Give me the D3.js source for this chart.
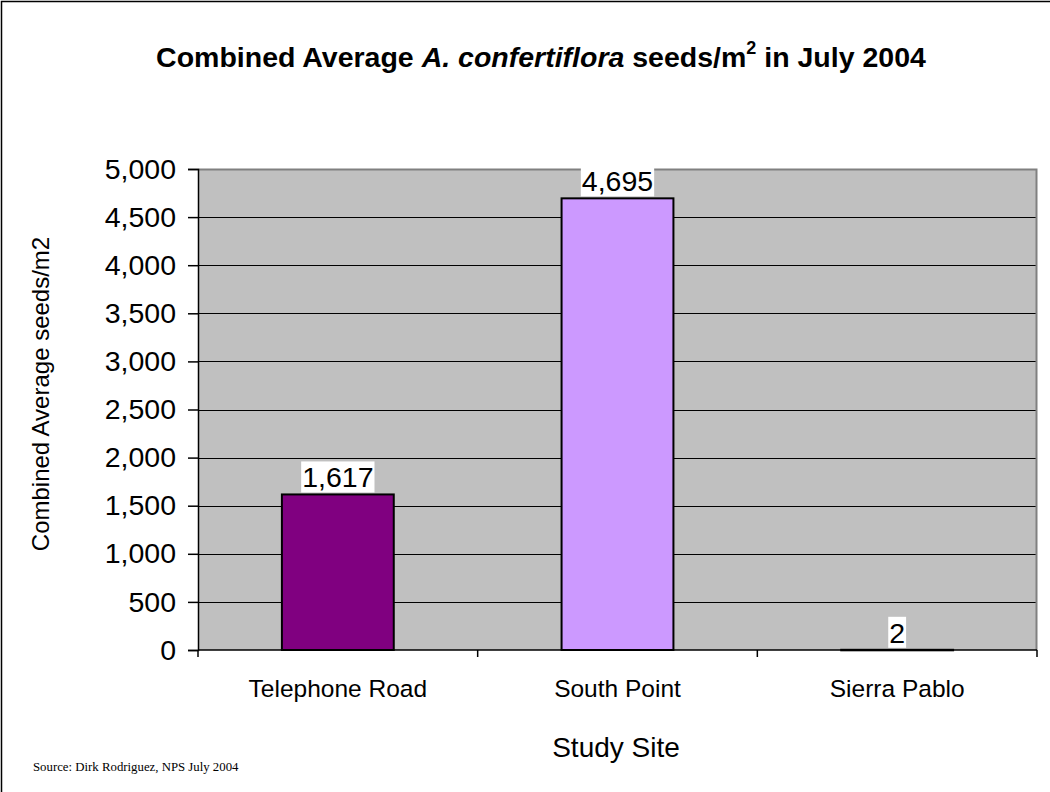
<!DOCTYPE html>
<html>
<head>
<meta charset="utf-8">
<script src="https://cdn.jsdelivr.net/npm/d3@7"></script>
<style>
  html, body { margin: 0; padding: 0; background: #fff; }
  svg { display: block; }
</style>
</head>
<body>
<svg id="chart" width="1050" height="792"></svg>
<script>
// Study sites and combined average seed counts per square metre
const sites = ["Telephone Road", "South Point", "Sierra Pablo"];
const seeds = [1617, 4695, 2];
const barColors = ["#800080", "#CC99FF", "#993366"];
const yTicks = [0, 500, 1000, 1500, 2000, 2500, 3000, 3500, 4000, 4500, 5000];

const svg = d3.select("#chart");
const W = 1050, H = 792;
const plot = { left: 198, right: 1037, top: 169, bottom: 650 };
const sans = "Arial, 'Liberation Sans', sans-serif";

// outer frame of the chart area
svg.append("rect")
  .attr("x", 1.5).attr("y", 1.5)
  .attr("width", W + 10).attr("height", H + 10)
  .attr("fill", "#fff").attr("stroke", "#000").attr("stroke-width", 1.5);

const x = d3.scaleBand()
  .domain(sites)
  .range([plot.left, plot.right])
  .paddingInner(0).paddingOuter(0);

const y = d3.scaleLinear()
  .domain([0, 5000])
  .range([plot.bottom, plot.top]);

const fmt = d3.format(",");

// plot background
svg.append("rect")
  .attr("x", plot.left).attr("y", plot.top)
  .attr("width", plot.right - plot.left).attr("height", plot.bottom - plot.top)
  .attr("fill", "#C0C0C0");

// horizontal gridlines
svg.append("g")
  .selectAll("line")
  .data(yTicks.filter(d => d > 0))
  .join("line")
  .attr("x1", plot.left).attr("x2", plot.right)
  .attr("y1", d => Math.round(y(d)) + 0.5).attr("y2", d => Math.round(y(d)) + 0.5)
  .attr("stroke", "#000").attr("stroke-width", 1);

// plot border (top and right)
svg.append("path")
  .attr("d", `M${plot.left},${plot.top + 0.5}H${plot.right - 0.5}V${plot.bottom}`)
  .attr("fill", "none").attr("stroke", "#808080").attr("stroke-width", 2);

// bars
const barW = x.bandwidth() / 2.5;
svg.append("g")
  .selectAll("rect")
  .data(sites)
  .join("rect")
  .attr("x", d => x(d) + (x.bandwidth() - barW) / 2)
  .attr("y", (d, i) => y(seeds[i]))
  .attr("width", barW)
  .attr("height", (d, i) => Math.max(0.5, y(0) - y(seeds[i])))
  .attr("fill", (d, i) => barColors[i])
  .attr("stroke", "#000").attr("stroke-width", 2);

// y axis
const yAxis = d3.axisLeft(y)
  .tickValues(yTicks)
  .tickFormat(fmt)
  .tickSize(10)
  .tickPadding(12);
const gy = svg.append("g")
  .attr("transform", `translate(${plot.left},0)`)
  .call(yAxis);
gy.select(".domain").attr("stroke", "#000").attr("stroke-width", 1.5);
gy.selectAll(".tick line").attr("stroke", "#000").attr("stroke-width", 1.5);
gy.selectAll(".tick text")
  .attr("font-family", sans)
  .attr("font-size", 28.5).attr("fill", "#000");

// x axis with ticks at category boundaries
const gx = svg.append("g")
  .attr("transform", `translate(0,${plot.bottom})`);
gx.append("line")
  .attr("x1", plot.left).attr("x2", plot.right)
  .attr("stroke", "#000").attr("stroke-width", 1.5);
const bounds = sites.map(s => x(s)).concat([x(sites[sites.length - 1]) + x.bandwidth()]);
gx.selectAll("line.tk")
  .data(bounds)
  .join("line")
  .attr("class", "tk")
  .attr("x1", d => d).attr("x2", d => d)
  .attr("y1", 0).attr("y2", 7)
  .attr("stroke", "#000").attr("stroke-width", 1.5);
gx.selectAll("text")
  .data(sites)
  .join("text")
  .attr("x", d => x(d) + x.bandwidth() / 2)
  .attr("y", 47)
  .attr("text-anchor", "middle")
  .attr("font-family", sans)
  .attr("font-size", 24.5)
  .text(d => d);

// value labels with white backing
const labels = svg.append("g");
sites.forEach((s, i) => {
  const cx = x(s) + x.bandwidth() / 2;
  const top = y(seeds[i]);
  const g = labels.append("g");
  const t = g.append("text")
    .attr("x", cx).attr("y", top - 7)
    .attr("text-anchor", "middle")
    .attr("font-family", sans)
    .attr("font-size", 28.5)
    .text(fmt(seeds[i]));
  const bb = t.node().getBBox();
  g.insert("rect", "text")
    .attr("x", bb.x - 1).attr("y", top - 33)
    .attr("width", bb.width + 2).attr("height", 31)
    .attr("fill", "#fff");
});

// title
const title = svg.append("text")
  .attr("x", 541).attr("y", 67)
  .attr("text-anchor", "middle")
  .attr("font-family", sans)
  .attr("font-size", 28.5).attr("font-weight", "bold");
title.append("tspan").text("Combined Average ");
title.append("tspan").attr("font-style", "italic").text("A. confertiflora");
title.append("tspan").text("  seeds/m");
title.append("tspan").attr("font-size", 18).attr("dy", -13).text("2");
title.append("tspan").attr("dy", 13).text(" in July 2004");

// axis titles
svg.append("text")
  .attr("transform", `translate(49,394) rotate(-90)`)
  .attr("text-anchor", "middle")
  .attr("font-family", sans)
  .attr("font-size", 24)
  .text("Combined Average seeds/m2");

svg.append("text")
  .attr("x", 616).attr("y", 757)
  .attr("text-anchor", "middle")
  .attr("font-family", sans)
  .attr("font-size", 28)
  .text("Study Site");

// source note
svg.append("text")
  .attr("x", 33).attr("y", 771)
  .attr("font-family", "'Times New Roman', 'Liberation Serif', serif")
  .attr("font-size", 12.8)
  .text("Source: Dirk Rodriguez, NPS July 2004");
</script>
</body>
</html>
